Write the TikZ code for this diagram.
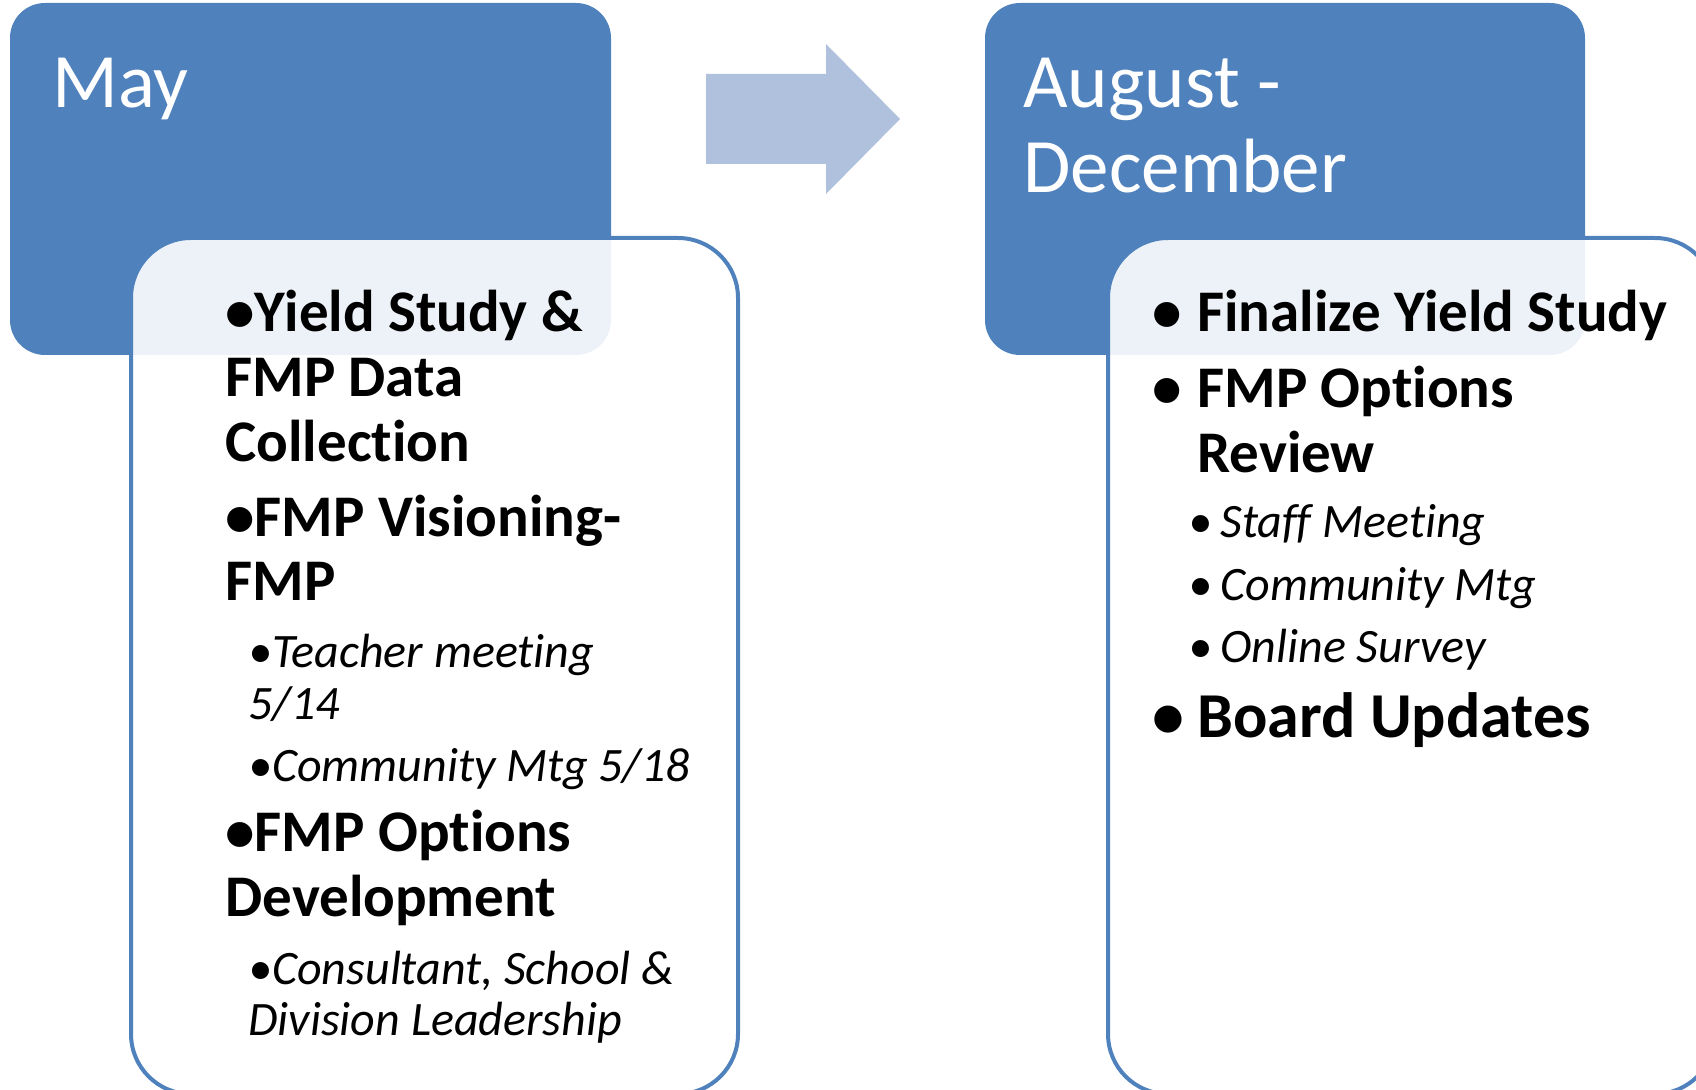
\documentclass[tikz,border=0pt]{standalone}
\usepackage{fontspec}
\setmainfont{Carlito}[Ligatures=NoCommon]
\definecolor{boxblue}{RGB}{79,129,189}
\definecolor{arrowblue}{RGB}{176,193,221}
\newcommand{\mainbul}{\makebox[22.5pt][l]{•}}
\newcommand{\subbul}{\makebox[16pt][l]{•}}
\begin{document}
\begin{tikzpicture}[x=0.5pt,y=-0.5pt,line join=round]
	\tikzset{month/.style={anchor=base west,inner sep=0,text=white,font=\fontsize{38.5}{46}\selectfont},
		item/.style={anchor=base west,inner sep=0,font=\bfseries\fontsize{29.5}{36}\selectfont},
		bigitem/.style={item,font=\bfseries\fontsize{32}{38}\selectfont},
		subitem/.style={anchor=base west,inner sep=0,font=\itshape\fontsize{24}{30}\selectfont}}
	\useasboundingbox (0,0) rectangle (1696,1090);
	\clip (0,0) rectangle (1696,1090);
	% month headers
	\fill[boxblue,rounded corners=17.5pt] (10,3) rectangle (611,355);
	\fill[boxblue,rounded corners=17.5pt] (985,3) rectangle (1585,355);
	% task boxes
	\draw[boxblue,line width=2pt,fill=white,fill opacity=0.9,rounded corners=30pt] (131,238) rectangle (738,1094);
	\draw[boxblue,line width=2pt,fill=white,fill opacity=0.9,rounded corners=30pt] (1108,238) rectangle (1715,1094);
	% arrow
	\fill[arrowblue] (706,74)--(826,74)--(826,44)--(900,119)--(826,194)--(826,164)--(706,164)--cycle;
	\node[month] (may) at (52,108) {May};
	\node[month] (aug) at (1023,108) {August -};
	\node[month] (dec) at (1023,193) {December};
	\foreach \x/\y/\s/\t [count=\i] in {
		225/332/item/{•Yield Study \&},
		225/397/item/{FMP Data},
		225/462/item/{Collection},
		225/537/item/{•FMP Visioning-},
		225/600/item/{FMP},
		248/667/subitem/{•Teacher meeting},
		248/719/subitem/{5/14},
		248/781/subitem/{•Community Mtg 5/18},
		225/851/item/{•FMP Options},
		225/916/item/{Development},
		248/984/subitem/{•Consultant, School \&},
		248/1035/subitem/{Division Leadership}}
		\node[\s] (may\i) at (\x,\y) {\t};
	\foreach \x/\y/\s/\t [count=\i] in {
		1152/332/item/{\mainbul Finalize Yield Study},
		1152/408/item/{\mainbul FMP Options},
		1197/473/item/{Review},
		1188/538/subitem/{\subbul Staff Meeting},
		1188/600/subitem/{\subbul Community Mtg},
		1188/662/subitem/{\subbul Online Survey},
		1152/737/bigitem/{\mainbul Board Updates}}
		\node[\s] (aug\i) at (\x,\y) {\t};
\end{tikzpicture}
\end{document}
